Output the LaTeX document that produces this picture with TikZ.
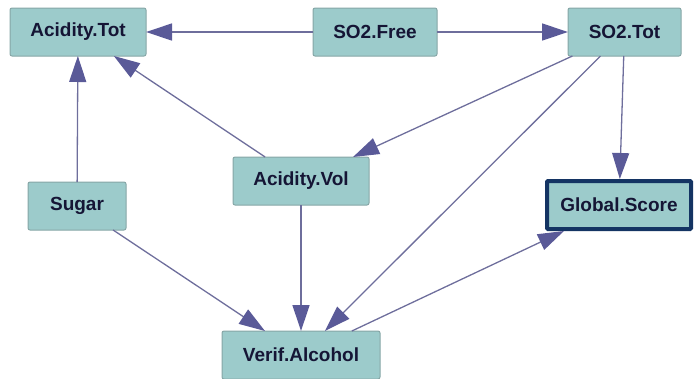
\documentclass[tikz,border=0pt]{standalone}
\usepackage{fontspec}
\setmainfont{Liberation Sans}
\usetikzlibrary{arrows.meta}
\definecolor{nodefill}{HTML}{9CCBCB}
\definecolor{nodeedge}{HTML}{86A6A6}
\definecolor{edgecol}{HTML}{6E6E9C}
\definecolor{tipcol}{HTML}{5A5A98}
\definecolor{txtcol}{HTML}{151535}
\definecolor{navy}{HTML}{143463}
\tikzset{
  var/.style={draw=nodeedge, fill=nodefill, line width=1pt, rounded corners=2pt,
    minimum height=48pt, inner sep=0pt, outer sep=0pt, text=txtcol,
    font=\fontsize{19}{21}\selectfont\bfseries},
  edge/.style={draw=edgecol, line width=1.3pt,
    -{Triangle[length=26pt,width=17pt,fill=tipcol,color=tipcol]}},
}
\begin{document}
\begin{tikzpicture}[x=1pt,y=-1pt]
\useasboundingbox (0,0) rectangle (694,378);
\node[var, minimum width=136pt] (at) at (78,32) {Acidity.Tot};
\node[var, minimum width=124pt] (sf) at (375,32) {SO2.Free};
\node[var, minimum width=113pt] (st) at (624.5,32) {SO2.Tot};
\node[var, minimum width=98pt] (su) at (77,206) {Sugar};
\node[var, minimum width=136pt] (av) at (301,181) {Acidity.Vol};
\node[var, draw=navy, line width=4pt, rounded corners=1pt, minimum width=144pt, minimum height=48pt, outer sep=2pt] (gs) at (619,205) {Global.Score};
\node[var, minimum width=158pt] (va) at (301,355) {Verif.Alcohol};
\draw[edge] (sf) -- (at);
\draw[edge] (sf) -- (st);
\draw[edge] (su) -- (at);
\draw[edge] (av) -- (at);
\draw[edge] (st) -- (av);
\draw[edge] (st) -- (va);
\draw[edge] (st) -- (gs);
\draw[edge] (su) -- (va);
\draw[edge] (av) -- (va);
\draw[edge] (va) -- (gs);
\end{tikzpicture}
\end{document}
